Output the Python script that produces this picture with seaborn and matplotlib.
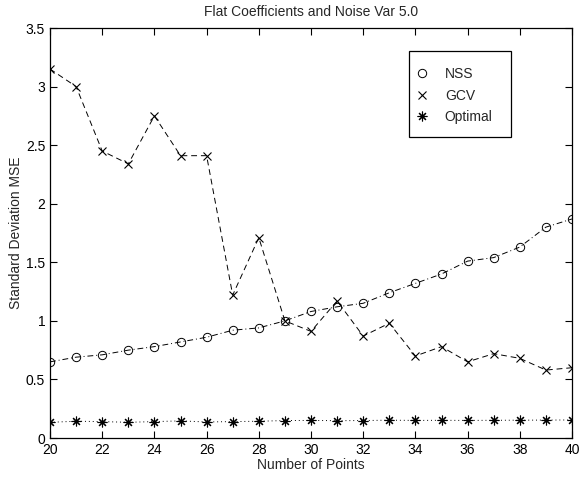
import numpy as np
import pandas as pd
import matplotlib
matplotlib.use("Agg")
import matplotlib.pyplot as plt
from matplotlib.lines import Line2D
from matplotlib.patches import Rectangle
import seaborn as sns

# data
points = list(range(20, 41))
nss = [0.65, 0.69, 0.71, 0.75, 0.78, 0.82, 0.86, 0.92, 0.94, 1.00, 1.08,
       1.12, 1.15, 1.24, 1.32, 1.40, 1.51, 1.54, 1.63, 1.80, 1.87]
gcv = [3.15, 3.00, 2.45, 2.34, 2.75, 2.41, 2.41, 1.22, 1.71, 1.00, 0.91,
       1.17, 0.87, 0.98, 0.70, 0.78, 0.65, 0.72, 0.68, 0.58, 0.60]
optimal = [0.134, 0.143, 0.140, 0.134, 0.140, 0.146, 0.137, 0.140, 0.143, 0.149, 0.150,
           0.148, 0.149, 0.152, 0.150, 0.151, 0.150, 0.151, 0.152, 0.153, 0.154]

df = pd.DataFrame({"Number of Points": points, "NSS": nss, "GCV": gcv, "Optimal": optimal})

sns.set_style("ticks")
plt.rcParams['font.family'] = ['Liberation Sans', 'DejaVu Sans']

fig = plt.figure(figsize=(5.8, 4.78), dpi=100)
ax = fig.add_axes([50/580, 40/478, 522/580, 410/478])

star = (8, 2, 0)
sns.lineplot(data=df, x="Number of Points", y="NSS", ax=ax, color="black", lw=0.7,
             linestyle=(0, (6, 3, 1, 3)), marker="o", markersize=6,
             markerfacecolor="none", markeredgecolor="black", markeredgewidth=0.7)
sns.lineplot(data=df, x="Number of Points", y="GCV", ax=ax, color="black", lw=0.7,
             linestyle=(0, (6, 4)), marker="x", markersize=6,
             markeredgecolor="black", markeredgewidth=0.8)
sns.lineplot(data=df, x="Number of Points", y="Optimal", ax=ax, color="black", lw=0.7,
             linestyle=(0, (1, 3)), marker=star, markersize=7,
             markeredgecolor="black", markeredgewidth=0.8)

ax.set_xlim(20, 40)
ax.set_ylim(0, 3.5)
ax.set_xticks(np.arange(20, 41, 2))
ax.set_yticks(np.arange(0, 3.51, 0.5))
ax.set_yticklabels(["0", "0.5", "1", "1.5", "2", "2.5", "3", "3.5"])
ax.tick_params(direction="in", top=True, right=True, length=5, width=0.8,
               labelsize=10, pad=3.5, colors="black")
for s in ax.spines.values():
    s.set_linewidth(0.9)
    s.set_color("black")

ax.set_xlabel("Number of Points", fontsize=10, labelpad=1)
ax.set_ylabel("Standard Deviation MSE", fontsize=10, labelpad=2)
ax.set_title("Flat Coefficients and Noise Var 5.0", fontsize=10, pad=9)

# legend box drawn like the old matlab one (more padding above/below than at the sides)
ax.add_patch(Rectangle(((409 - 50) / 522, (438 - 137) / 410), 102 / 522, 86 / 410,
                       transform=ax.transAxes, facecolor="white", edgecolor="black",
                       lw=0.9, zorder=4))
handles = [
    Line2D([], [], color="black", linestyle="none", marker="o", markersize=6,
           markerfacecolor="none", markeredgewidth=0.7),
    Line2D([], [], color="black", linestyle="none", marker="x", markersize=6,
           markeredgewidth=0.8),
    Line2D([], [], color="black", linestyle="none", marker=star, markersize=7,
           markeredgewidth=0.8),
]
leg = ax.legend(handles, ["NSS", "GCV", "Optimal"], loc="upper left",
                bbox_to_anchor=((415 - 50) / 522, (438 - 67) / 410),
                fontsize=10, frameon=False, borderpad=0, handlelength=1.0,
                handletextpad=1.15, labelspacing=0.55, borderaxespad=0)
leg.set_zorder(5)

fig.savefig("out.png", dpi=100)
